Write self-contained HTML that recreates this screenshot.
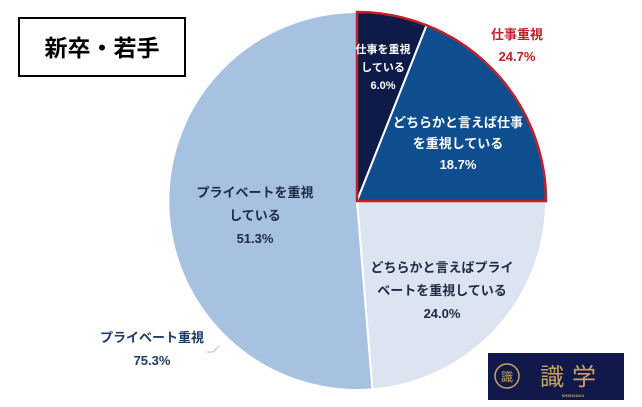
<html><head><style>body{margin:0;background:#fff;font-family:"Liberation Sans","Noto Sans CJK JP",sans-serif}</style></head><body>
<svg width="642" height="407" viewBox="0 0 642 407" xmlns="http://www.w3.org/2000/svg" font-family="Liberation Sans, Noto Sans CJK JP, sans-serif" font-weight="bold">
<rect width="642" height="407" fill="#fff"/>
<g stroke="#fff" stroke-width="2">
<path d="M357,201 L357,12 A189,189 0 0 1 426.6,25.3 Z" fill="#0e1a48"/>
<path d="M357,201 L426.6,25.3 A189,189 0 0 1 546,201 Z" fill="#0f4e8e"/>
<path d="M357,201 L546,201 A189,189 0 0 1 372.4,389.4 Z" fill="#dbe4f0"/>
<path d="M357,201 L372.4,389.4 A189,189 0 1 1 357,12 Z" fill="#a7c2e1"/>
</g>
<path d="M357,201 L357,12 A189,189 0 0 1 546,201 Z" fill="none" stroke="#c0202a" stroke-width="2.5"/>
<rect x="19" y="18" width="166" height="58" fill="#fff" stroke="#000" stroke-width="2"/>
<text x="102" y="56" font-size="23" text-anchor="middle" fill="#000">新卒・若手</text>
<g font-size="11" fill="#fff" text-anchor="middle">
<text x="383" y="53">仕事を重視</text><text x="383" y="71">している</text><text x="383" y="89">6.0%</text>
</g>
<g font-size="13" fill="#fff" text-anchor="middle">
<text x="458" y="127">どちらかと言えば仕事</text><text x="458" y="148">を重視している</text><text x="458" y="169">18.7%</text>
</g>
<g font-size="13" fill="#1f2a44" text-anchor="middle">
<text x="442" y="272">どちらかと言えばプライ</text><text x="442" y="295">ベートを重視している</text><text x="442" y="318">24.0%</text>
<text x="255" y="197">プライベートを重視</text><text x="255" y="220">している</text><text x="255" y="243">51.3%</text>
</g>
<g font-size="13" fill="#c0202a" text-anchor="middle"><text x="517" y="39">仕事重視</text><text x="517" y="61">24.7%</text></g>
<g font-size="13" fill="#1f3b66" text-anchor="middle"><text x="152" y="342">プライベート重視</text><text x="152" y="365">75.3%</text></g>
<polyline points="207,352 213,352 219,346" fill="none" stroke="#bbb" stroke-width="1"/>
<rect x="488" y="353" width="136" height="47" fill="#10194a"/>
<circle cx="507" cy="376" r="12" fill="none" stroke="#c9a45c" stroke-width="1.5"/>
<text x="507" y="381" font-size="12" fill="#c9a45c" text-anchor="middle" font-weight="normal">識</text>
<text x="572" y="385" font-size="24" fill="#c9a45c" text-anchor="middle" font-weight="normal" letter-spacing="8">識学</text>
<text x="573" y="397" font-size="4" fill="#c9a45c" text-anchor="middle">SHIKIGAKU</text>
</svg></body></html>
